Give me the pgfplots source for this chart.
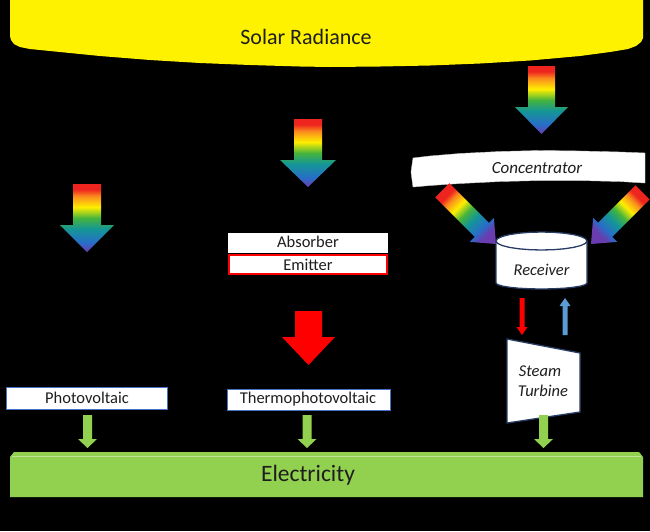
\documentclass[border=0pt]{standalone}
\usepackage{pgfplots}
\pgfplotsset{compat=1.18}
\usepackage{fontspec}
\setmainfont{Carlito}
\definecolor{rbred}{RGB}{238,36,30}
\definecolor{rborange}{RGB}{250,140,30}
\definecolor{rbyellow}{RGB}{255,238,0}
\definecolor{rbgreen}{RGB}{70,180,60}
\definecolor{rbteal}{RGB}{20,150,150}
\definecolor{rbblue}{RGB}{40,110,200}
\definecolor{rbviolet}{RGB}{105,60,175}
\definecolor{elgreen}{RGB}{146,208,80}
\definecolor{boxblue}{RGB}{68,114,196}
\definecolor{navy}{RGB}{40,60,100}
\definecolor{stblue}{RGB}{91,155,213}
\definecolor{txt}{RGB}{30,30,30}
\pgfdeclareverticalshading{rainbow}{100bp}{color(0bp)=(rbviolet); color(25bp)=(rbviolet); color(32bp)=(rbblue); color(42bp)=(rbteal); color(50bp)=(rbgreen); color(58bp)=(rbyellow); color(66bp)=(rborange); color(71bp)=(rbred); color(100bp)=(rbred)}
\begin{document}
\begin{tikzpicture}
\begin{axis}[scale only axis, width=650pt, height=531pt,
  xmin=0, xmax=650, ymin=0, ymax=531, y dir=reverse,
  hide axis, clip=true]
% background
\addplot[fill=black, draw=none] coordinates {(0,0) (650,0) (650,531) (0,531)} -- cycle;
% solar radiance
\addplot[fill=yellow, draw=none] coordinates {(10,-1) (10,36) (11,40) (14,44) (20,47) (30,49) (60,52) (100,56) (150,60) (200,63) (250,65) (300,66.5) (330,67) (380,66.5) (430,65.5) (480,63.5) (530,60.5) (580,56) (610,52) (628,49) (636,46) (641,42) (643,38) (643,-1)} -- cycle;
\node[font=\fontsize{22}{26}\selectfont, text=txt] at (axis cs:306,37) {Solar Radiance};
% rainbow arrows vertical
\addplot[shading=rainbow, draw=none] coordinates {(73,184) (101,184) (101,225) (114,225) (87,252) (60,225) (73,225)} -- cycle;
\addplot[shading=rainbow, draw=none] coordinates {(294,119) (322,119) (322,160) (336,160) (308,187) (280,160) (294,160)} -- cycle;
\addplot[shading=rainbow, draw=none] coordinates {(528,66) (555,66) (555,107) (568,107) (541.5,134) (515,107) (528,107)} -- cycle;
% concentrator
\addplot[fill=white, draw=gray!40] coordinates {(413,158) (430,156) (460,153.5) (500,151.5) (540,150.5) (580,151) (620,152) (645,153) (645,183) (620,181.5) (580,180.5) (540,180.5) (500,181.5) (460,183.5) (430,185.5) (413,187) (411,172)} -- cycle;
\node[font=\fontsize{17}{20}\selectfont\itshape, text=txt] at (axis cs:537,168) {Concentrator};
% diagonal arrows
\addplot[shading=rainbow, shading angle=45, draw=none] coordinates {(449.33,183.19) (488.93,222.93) (493.88,217.84) (496,244) (469.84,241.88) (474.79,236.79) (435.19,197.33)} -- cycle;
\addplot[shading=rainbow, shading angle=-45, draw=none] coordinates {(635.55,185.31) (598.07,222.79) (593.12,217.84) (591,244) (617.16,241.88) (612.21,236.93) (649.69,199.45)} -- cycle;
% receiver cylinder
\addplot[fill=white, draw=navy, line width=1.3pt] coordinates {(587,241) (585.45,238.67) (580.9,236.5) (573.67,234.64) (564.25,233.21) (553.28,232.31) (541.5,232) (529.72,232.31) (518.75,233.21) (509.33,234.64) (502.1,236.5) (497.55,238.67) (496,241) (496,283) (497.55,284.55) (502.1,286) (509.33,287.24) (518.75,288.2) (529.72,288.8) (541.5,289) (553.28,288.8) (564.25,288.2) (573.67,287.24) (580.9,286) (585.45,284.55) (587,283)} -- cycle;
\addplot[draw=navy, line width=1.3pt] coordinates {(496,241) (497.55,243.33) (502.1,245.5) (509.33,247.36) (518.75,248.79) (529.72,249.69) (541.5,250) (553.28,249.69) (564.25,248.79) (573.67,247.36) (580.9,245.5) (585.45,243.33) (587,241)};
\node[font=\fontsize{16.5}{19}\selectfont\itshape, text=txt] at (axis cs:541.5,270) {Receiver};
% red / blue thin arrows
\addplot[fill=red, draw=none] coordinates {(519.5,298) (524.5,298) (524.5,327) (527.5,327) (522,335) (516.5,327) (519.5,327)} -- cycle;
\addplot[fill=stblue, draw=none] coordinates {(562.5,335) (567.5,335) (567.5,306) (570.5,306) (565,298) (559.5,306) (562.5,306)} -- cycle;
% steam turbine
\addplot[fill=white, draw=navy, line width=1.3pt] coordinates {(507,339) (580,353) (580,412) (507,423)} -- cycle;
\node[font=\fontsize{16.5}{19}\selectfont\itshape, text=txt] at (axis cs:540,371) {Steam};
\node[font=\fontsize{16.5}{19}\selectfont\itshape, text=txt] at (axis cs:543,391) {Turbine};
% absorber / emitter
\addplot[fill=white, draw=none] coordinates {(228,233) (388,233) (388,253) (228,253)} -- cycle;
\addplot[fill=white, draw=red, line width=1.5pt] coordinates {(229,255) (387,255) (387,274) (229,274)} -- cycle;
\node[font=\fontsize{16.5}{19}\selectfont, text=txt] at (axis cs:308,242) {Absorber};
\node[font=\fontsize{16.5}{19}\selectfont, text=txt] at (axis cs:308,265) {Emitter};
% red big arrow
\addplot[fill=red, draw=none] coordinates {(295,311) (322,311) (322,337) (335,337) (308.5,365) (282,337) (295,337)} -- cycle;
% PV boxes
\addplot[fill=white, draw=boxblue, line width=1pt] coordinates {(6,387) (167,387) (167,409) (6,409)} -- cycle;
\addplot[fill=white, draw=boxblue, line width=1pt] coordinates {(227,389) (390,389) (390,410) (227,410)} -- cycle;
\node[font=\fontsize{16.5}{19}\selectfont, text=txt] at (axis cs:87,398) {Photovoltaic};
\node[font=\fontsize{16.5}{19}\selectfont, text=txt] at (axis cs:308,399.5) {Thermophotovoltaic};
% green arrows
\addplot[fill=elgreen, draw=none] coordinates {(83,415) (92,415) (92,439) (97,439) (87.5,448) (78,439) (83,439)} -- cycle;
\addplot[fill=elgreen, draw=none] coordinates {(302.5,415) (311.5,415) (311.5,439) (316.5,439) (307,448) (297.5,439) (302.5,439)} -- cycle;
\addplot[fill=elgreen, draw=none] coordinates {(539,415) (548,415) (548,439) (553,439) (543.5,448) (534,439) (539,439)} -- cycle;
% electricity bar
\addplot[fill=elgreen, draw=none] coordinates {(10,497) (10,457) (14,452) (639,452) (643,457) (643,497)} -- cycle;
\addplot[draw=elgreen!60!white, line width=0.6pt] coordinates {(12,456.5) (641,456.5)};
\node[font=\fontsize{23.5}{28}\selectfont, text=txt] at (axis cs:308,475) {Electricity};
\end{axis}
\end{tikzpicture}
\end{document}
